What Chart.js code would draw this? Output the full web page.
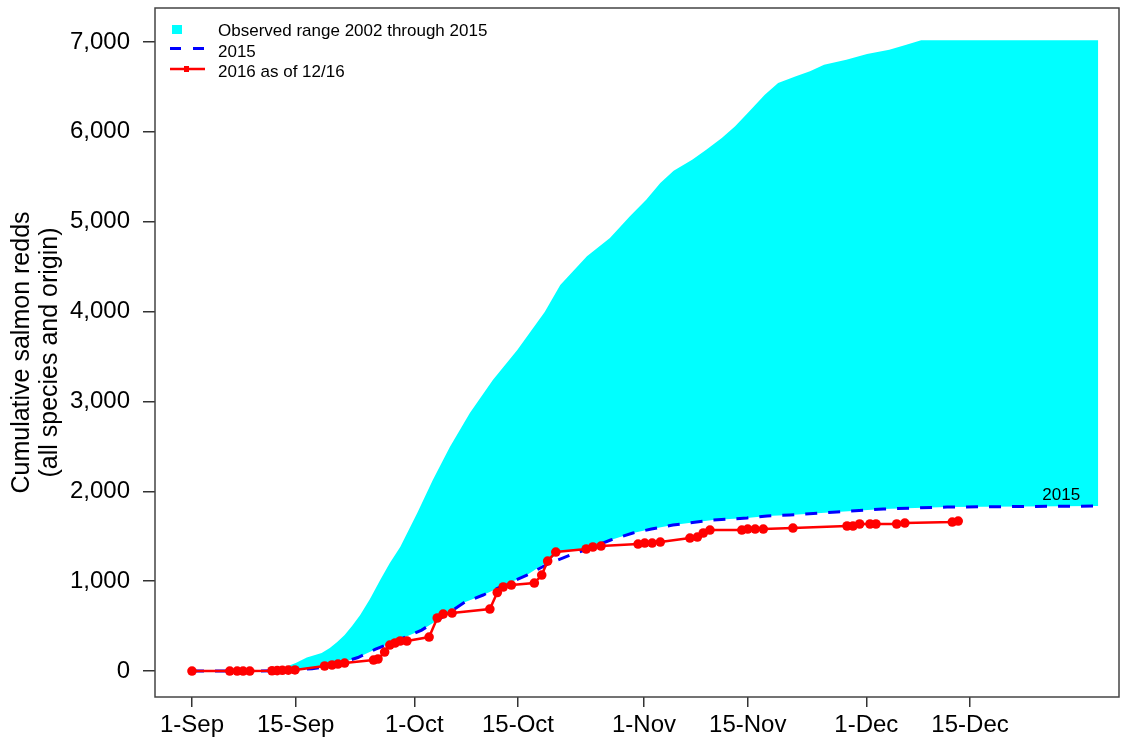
<!DOCTYPE html>
<html>
<head>
<meta charset="utf-8">
<script src="https://cdn.jsdelivr.net/npm/chart.js@4.4.0/dist/chart.umd.min.js"></script>
<style>
  html, body { margin: 0; padding: 0; background: #fff; }
  #wrap { width: 1127px; height: 740px; }
</style>
</head>
<body>
<div id="wrap"><canvas id="redds" width="1127" height="740"></canvas></div>
<script>
// days since 1-Sep
var tickDays = [0, 14, 30, 44, 61, 75, 91, 105]
var tickLabels = ['1-Sep', '15-Sep', '1-Oct', '15-Oct', '1-Nov', '15-Nov', '1-Dec', '15-Dec']
var yTicks = [0, 1000, 2000, 3000, 4000, 5000, 6000, 7000]
var legendLabels = ['Observed range 2002 through 2015', '2015', '2016 as of 12/16']

// upper edge of the observed range
var highDays = [11, 12.8, 14, 15.5, 17.5, 18.6, 19.6, 20.6, 21.6, 22.7, 24.0, 25.4, 26.7, 28.1, 30.4, 32.5, 34.8, 37.5, 40.6, 43.9, 47.6, 49.7, 53.3, 56.4, 59.1, 61.3, 63.2, 65.0, 67.5, 69.4, 71.5, 73.3, 75.0, 77.3, 79.1, 81.5, 83.4, 85.3, 88.3, 91.1, 94.1, 96.4, 98.4, 122.3]
var highVals = [0, 50, 90, 150, 200, 256, 323, 400, 500, 623, 800, 1013, 1202, 1380, 1758, 2125, 2493, 2871, 3238, 3572, 3995, 4295, 4615, 4818, 5060, 5245, 5430, 5567, 5690, 5801, 5931, 6061, 6209, 6413, 6543, 6618, 6673, 6747, 6803, 6866, 6914, 6970, 7018, 7018]

// lower edge of the observed range
var lowDays = [11, 16.2, 19, 22.4, 24.7, 28, 31, 34, 36.8, 39.3, 42, 45.2, 48, 49.5, 53, 56.5, 59.5, 62, 64.9, 70.3, 74.9, 77.6, 80.7, 87, 93.3, 101.9, 122.3]
var lowVals = [0, 25, 60, 150, 240, 350, 456, 610, 765, 846, 950, 1068, 1220, 1320, 1370, 1458, 1536, 1580, 1625, 1680, 1703, 1725, 1736, 1769, 1803, 1825, 1836]

var days2015 = [0, 8, 12, 16.2, 19, 22.4, 24.7, 28, 31, 34, 36.8, 39.3, 42, 45.2, 48, 51, 53.5, 56.5, 59.5, 62, 64.9, 70.3, 74.9, 77.6, 80.7, 87, 93.3, 101.9, 122.3]
var vals2015 = [0, 0, 5, 25, 60, 150, 240, 350, 456, 610, 765, 846, 950, 1068, 1190, 1290, 1360, 1458, 1536, 1580, 1625, 1680, 1703, 1725, 1736, 1769, 1803, 1825, 1836]

var days2016 = [0, 5.1, 6.1, 6.9, 7.8, 10.8, 11.5, 12.2, 13.0, 13.9, 17.9, 18.9, 19.7, 20.6, 24.5, 25.1, 26.0, 26.7, 27.4, 28.1, 29.0, 32.0, 33.1, 33.9, 35.1, 40.2, 41.2, 42.0, 43.1, 46.2, 47.2, 48.0, 49.1, 53.2, 54.1, 55.2, 60.2, 61.1, 62.1, 63.2, 67.2, 68.2, 69.0, 69.9, 74.2, 75.0, 76.0, 77.1, 81.1, 88.4, 89.2, 90.1, 91.5, 92.3, 95.1, 96.2, 102.6, 103.4]
var vals2016 = [0, 0, 0, 0, 0, 3, 5, 8, 10, 12, 56, 67, 78, 89, 122, 134, 211, 289, 312, 334, 334, 378, 590, 634, 645, 690, 874, 935, 957, 979, 1068, 1224, 1324, 1358, 1380, 1391, 1413, 1424, 1424, 1435, 1480, 1491, 1536, 1569, 1569, 1580, 1580, 1580, 1591, 1614, 1614, 1636, 1636, 1636, 1636, 1647, 1658, 1669]

function pts(xs, ys) {
  return xs.map(function (x, i) { return {x: x, y: ys[i]} })
}

var FONT = '"Liberation Sans", Arial, sans-serif'

var boxAndLegend = {
  id: 'boxAndLegend',
  afterDraw: function (chart) {
    var ctx = chart.ctx, a = chart.chartArea
    ctx.save()
    ctx.strokeStyle = '#444'
    ctx.lineWidth = 1.5
    ctx.strokeRect(a.left, a.top, a.right - a.left, a.bottom - a.top)

    ctx.font = '17px ' + FONT
    ctx.textBaseline = 'alphabetic'
    ctx.textAlign = 'left'

    ctx.fillStyle = '#00ffff'
    ctx.fillRect(172, 25, 10, 9)

    ctx.strokeStyle = '#0000ff'
    ctx.lineWidth = 3
    ctx.beginPath()
    ctx.moveTo(170, 48.5); ctx.lineTo(181, 48.5)
    ctx.moveTo(193, 48.5); ctx.lineTo(204, 48.5)
    ctx.stroke()

    ctx.strokeStyle = '#ff0000'
    ctx.lineWidth = 2.5
    ctx.beginPath()
    ctx.moveTo(170, 69); ctx.lineTo(205, 69)
    ctx.stroke()
    ctx.fillStyle = '#ff0000'
    ctx.fillRect(184, 66, 5, 6)

    ctx.fillStyle = '#000'
    ctx.fillText(legendLabels[0], 218, 36)
    ctx.fillText(legendLabels[1], 218, 57)
    ctx.fillText(legendLabels[2], 218, 76.5)

    // end label on the 2015 line
    var xs = chart.scales.x, ys = chart.scales.y
    var last = days2015.length - 1
    ctx.textAlign = 'center'
    ctx.fillText('2015', xs.getPixelForValue(days2015[last]) - 37, ys.getPixelForValue(vals2015[last]) - 6)
    ctx.restore()
  }
}

new Chart('redds', {
  type: 'line',
  data: {
    datasets: [{
      label: legendLabels[2],
      data: pts(days2016, vals2016),
      borderColor: '#ff0000',
      backgroundColor: '#ff0000',
      borderWidth: 2.5,
      pointRadius: 4.8,
      pointBorderWidth: 0,
      fill: false,
      order: 0
    }, {
      label: legendLabels[1],
      data: pts(days2015, vals2015),
      borderColor: '#0000ff',
      borderWidth: 3,
      borderDash: [12, 11],
      pointRadius: 0,
      fill: false,
      order: 1
    }, {
      label: legendLabels[0],
      data: pts(highDays, highVals),
      borderWidth: 0,
      borderColor: 'rgba(0,0,0,0)',
      backgroundColor: '#00ffff',
      pointRadius: 0,
      fill: '+1',
      order: 2
    }, {
      label: 'low',
      data: pts(lowDays, lowVals),
      borderWidth: 0,
      borderColor: 'rgba(0,0,0,0)',
      pointRadius: 0,
      fill: false,
      order: 3
    }]
  },
  options: {
    responsive: false,
    animation: false,
    devicePixelRatio: 1,
    layout: { padding: { top: 8, right: 8, left: 0, bottom: 0 } },
    elements: { line: { tension: 0 } },
    plugins: { legend: { display: false }, tooltip: { enabled: false } },
    scales: {
      x: {
        type: 'linear',
        min: -4.99,
        max: 125.1,
        afterBuildTicks: function (s) { s.ticks = tickDays.map(function (d) { return {value: d} }) },
        afterFit: function (s) { s.height = 43; s.paddingLeft = 0; s.paddingRight = 0 },
        ticks: {
          autoSkip: false,
          maxRotation: 0,
          padding: 4,
          color: '#000',
          font: { family: FONT, size: 24 },
          callback: function (v, i) { return tickLabels[i] }
        },
        grid: { drawOnChartArea: false, drawTicks: true, tickLength: 10, color: '#333', lineWidth: 1.5 },
        border: { display: false }
      },
      y: {
        min: -289,
        max: 7378,
        afterBuildTicks: function (s) { s.ticks = yTicks.map(function (v) { return {value: v} }) },
        afterFit: function (s) { s.width = 155; s.paddingTop = 0; s.paddingBottom = 0 },
        ticks: {
          padding: 13,
          color: '#000',
          font: { family: FONT, size: 24 },
          callback: function (v) { return v.toLocaleString('en-US') }
        },
        grid: { drawOnChartArea: false, drawTicks: true, tickLength: 12, color: '#333', lineWidth: 1.5 },
        border: { display: false },
        title: {
          display: true,
          text: ['Cumulative salmon redds', '(all species and origin)'],
          color: '#000',
          font: { family: FONT, size: 25, lineHeight: 1.12 },
          padding: { top: 8, bottom: 0 }
        }
      }
    }
  },
  plugins: [boxAndLegend]
})
</script>
</body>
</html>
